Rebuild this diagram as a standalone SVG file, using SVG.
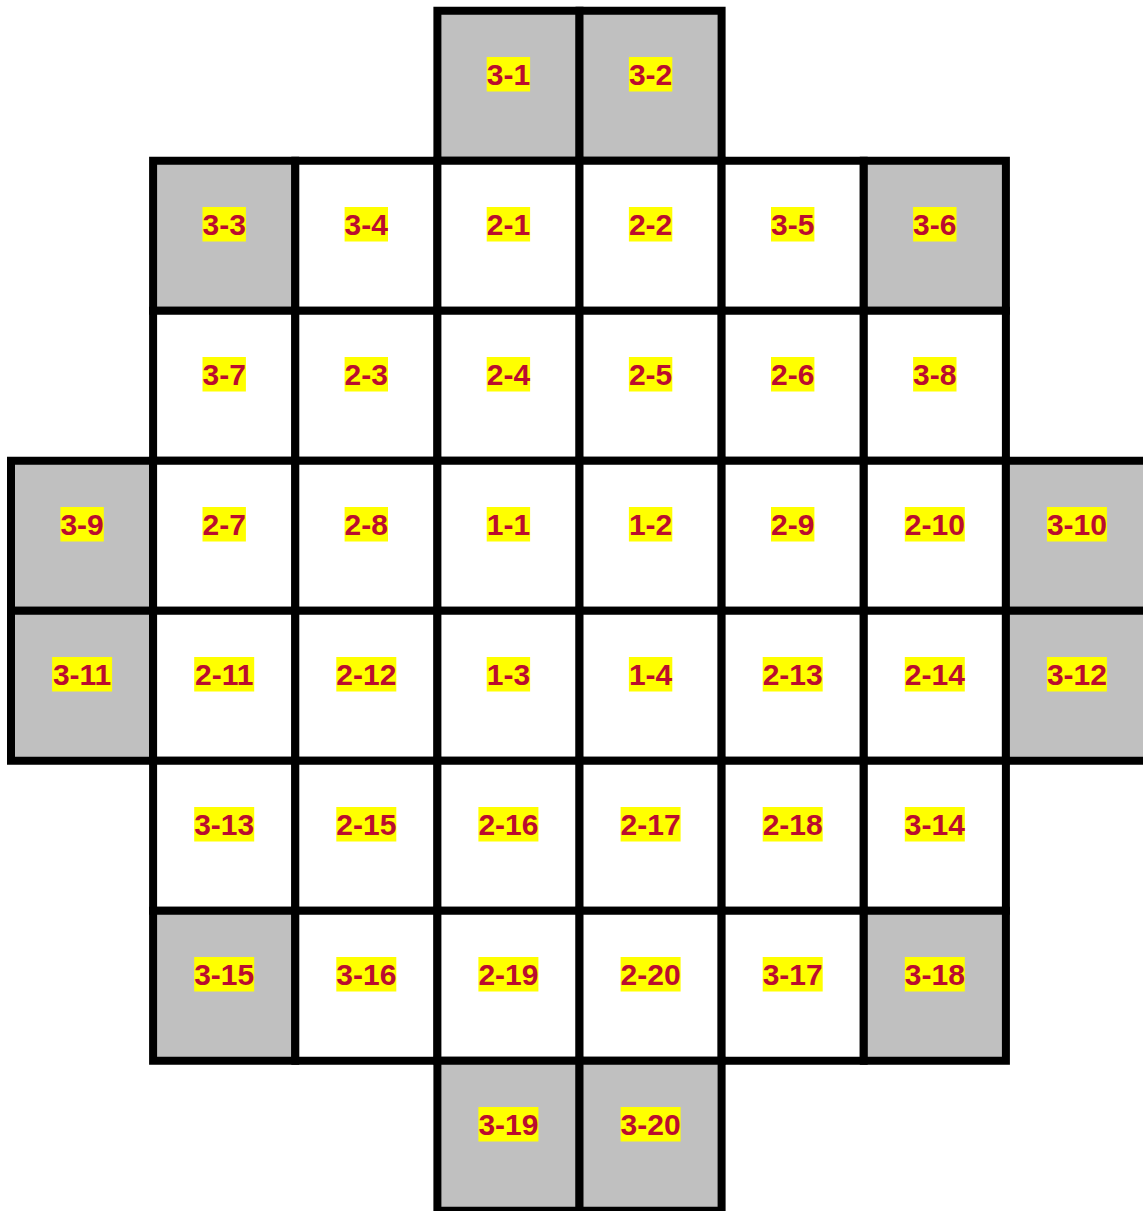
<svg xmlns="http://www.w3.org/2000/svg" width="1143" height="1211" viewBox="0 0 1143 1211">
<style>
.c{stroke:#000;stroke-width:8}
.g{fill:#C0C0C0}
.w{fill:#FFFFFF}
.hl{fill:#FFFF00}
.t{font-family:"Liberation Sans",Arial,sans-serif;font-weight:bold;font-size:30px;fill:#BA0C2F;text-anchor:middle}
</style>
<rect x="0" y="0" width="1143" height="1211" fill="#FFFFFF"/>
<g id="connectors"></g>
<!-- Row 0 -->
<g id="n3-1"><rect class="c g" x="437.4" y="10.75" width="142.1" height="150"/><rect class="hl" x="486.7" y="57" width="43.4" height="34.5"/><text class="t" x="508.4" y="84.5">3-1</text></g>
<g id="n3-2"><rect class="c g" x="579.5" y="10.75" width="142.1" height="150"/><rect class="hl" x="628.9" y="57" width="43.4" height="34.5"/><text class="t" x="650.6" y="84.5">3-2</text></g>
<!-- Row 1 -->
<g id="n3-3"><rect class="c g" x="153.1" y="160.75" width="142.1" height="150"/><rect class="hl" x="202.5" y="207" width="43.4" height="34.5"/><text class="t" x="224.2" y="234.5">3-3</text></g>
<g id="n3-4"><rect class="c w" x="295.3" y="160.75" width="142.1" height="150"/><rect class="hl" x="344.6" y="207" width="43.4" height="34.5"/><text class="t" x="366.3" y="234.5">3-4</text></g>
<g id="n2-1"><rect class="c w" x="437.4" y="160.75" width="142.1" height="150"/><rect class="hl" x="486.7" y="207" width="43.4" height="34.5"/><text class="t" x="508.4" y="234.5">2-1</text></g>
<g id="n2-2"><rect class="c w" x="579.5" y="160.75" width="142.1" height="150"/><rect class="hl" x="628.9" y="207" width="43.4" height="34.5"/><text class="t" x="650.6" y="234.5">2-2</text></g>
<g id="n3-5"><rect class="c w" x="721.6" y="160.75" width="142.1" height="150"/><rect class="hl" x="771" y="207" width="43.4" height="34.5"/><text class="t" x="792.7" y="234.5">3-5</text></g>
<g id="n3-6"><rect class="c g" x="863.8" y="160.75" width="142.1" height="150"/><rect class="hl" x="913.1" y="207" width="43.4" height="34.5"/><text class="t" x="934.8" y="234.5">3-6</text></g>
<!-- Row 2 -->
<g id="n3-7"><rect class="c w" x="153.1" y="310.75" width="142.1" height="150"/><rect class="hl" x="202.5" y="357" width="43.4" height="34.5"/><text class="t" x="224.2" y="384.5">3-7</text></g>
<g id="n2-3"><rect class="c w" x="295.3" y="310.75" width="142.1" height="150"/><rect class="hl" x="344.6" y="357" width="43.4" height="34.5"/><text class="t" x="366.3" y="384.5">2-3</text></g>
<g id="n2-4"><rect class="c w" x="437.4" y="310.75" width="142.1" height="150"/><rect class="hl" x="486.7" y="357" width="43.4" height="34.5"/><text class="t" x="508.4" y="384.5">2-4</text></g>
<g id="n2-5"><rect class="c w" x="579.5" y="310.75" width="142.1" height="150"/><rect class="hl" x="628.9" y="357" width="43.4" height="34.5"/><text class="t" x="650.6" y="384.5">2-5</text></g>
<g id="n2-6"><rect class="c w" x="721.6" y="310.75" width="142.1" height="150"/><rect class="hl" x="771" y="357" width="43.4" height="34.5"/><text class="t" x="792.7" y="384.5">2-6</text></g>
<g id="n3-8"><rect class="c w" x="863.8" y="310.75" width="142.1" height="150"/><rect class="hl" x="913.1" y="357" width="43.4" height="34.5"/><text class="t" x="934.8" y="384.5">3-8</text></g>
<!-- Row 3 -->
<g id="n3-9"><rect class="c g" x="11" y="460.75" width="142.1" height="150"/><rect class="hl" x="60.4" y="507" width="43.4" height="34.5"/><text class="t" x="82.1" y="534.5">3-9</text></g>
<g id="n2-7"><rect class="c w" x="153.1" y="460.75" width="142.1" height="150"/><rect class="hl" x="202.5" y="507" width="43.4" height="34.5"/><text class="t" x="224.2" y="534.5">2-7</text></g>
<g id="n2-8"><rect class="c w" x="295.3" y="460.75" width="142.1" height="150"/><rect class="hl" x="344.6" y="507" width="43.4" height="34.5"/><text class="t" x="366.3" y="534.5">2-8</text></g>
<g id="n1-1"><rect class="c w" x="437.4" y="460.75" width="142.1" height="150"/><rect class="hl" x="486.7" y="507" width="43.4" height="34.5"/><text class="t" x="508.4" y="534.5">1-1</text></g>
<g id="n1-2"><rect class="c w" x="579.5" y="460.75" width="142.1" height="150"/><rect class="hl" x="628.9" y="507" width="43.4" height="34.5"/><text class="t" x="650.6" y="534.5">1-2</text></g>
<g id="n2-9"><rect class="c w" x="721.6" y="460.75" width="142.1" height="150"/><rect class="hl" x="771" y="507" width="43.4" height="34.5"/><text class="t" x="792.7" y="534.5">2-9</text></g>
<g id="n2-10"><rect class="c w" x="863.8" y="460.75" width="142.1" height="150"/><rect class="hl" x="904.8" y="507" width="60" height="34.5"/><text class="t" x="934.8" y="534.5">2-10</text></g>
<g id="n3-10"><rect class="c g" x="1005.9" y="460.75" width="142.1" height="150"/><rect class="hl" x="1046.9" y="507" width="60" height="34.5"/><text class="t" x="1076.9" y="534.5">3-10</text></g>
<!-- Row 4 -->
<g id="n3-11"><rect class="c g" x="11" y="610.75" width="142.1" height="150"/><rect class="hl" x="52.1" y="657" width="60" height="34.5"/><text class="t" x="82.1" y="684.5">3-11</text></g>
<g id="n2-11"><rect class="c w" x="153.1" y="610.75" width="142.1" height="150"/><rect class="hl" x="194.2" y="657" width="60" height="34.5"/><text class="t" x="224.2" y="684.5">2-11</text></g>
<g id="n2-12"><rect class="c w" x="295.3" y="610.75" width="142.1" height="150"/><rect class="hl" x="336.3" y="657" width="60" height="34.5"/><text class="t" x="366.3" y="684.5">2-12</text></g>
<g id="n1-3"><rect class="c w" x="437.4" y="610.75" width="142.1" height="150"/><rect class="hl" x="486.7" y="657" width="43.4" height="34.5"/><text class="t" x="508.4" y="684.5">1-3</text></g>
<g id="n1-4"><rect class="c w" x="579.5" y="610.75" width="142.1" height="150"/><rect class="hl" x="628.9" y="657" width="43.4" height="34.5"/><text class="t" x="650.6" y="684.5">1-4</text></g>
<g id="n2-13"><rect class="c w" x="721.6" y="610.75" width="142.1" height="150"/><rect class="hl" x="762.7" y="657" width="60" height="34.5"/><text class="t" x="792.7" y="684.5">2-13</text></g>
<g id="n2-14"><rect class="c w" x="863.8" y="610.75" width="142.1" height="150"/><rect class="hl" x="904.8" y="657" width="60" height="34.5"/><text class="t" x="934.8" y="684.5">2-14</text></g>
<g id="n3-12"><rect class="c g" x="1005.9" y="610.75" width="142.1" height="150"/><rect class="hl" x="1046.9" y="657" width="60" height="34.5"/><text class="t" x="1076.9" y="684.5">3-12</text></g>
<!-- Row 5 -->
<g id="n3-13"><rect class="c w" x="153.1" y="760.75" width="142.1" height="150"/><rect class="hl" x="194.2" y="807" width="60" height="34.5"/><text class="t" x="224.2" y="834.5">3-13</text></g>
<g id="n2-15"><rect class="c w" x="295.3" y="760.75" width="142.1" height="150"/><rect class="hl" x="336.3" y="807" width="60" height="34.5"/><text class="t" x="366.3" y="834.5">2-15</text></g>
<g id="n2-16"><rect class="c w" x="437.4" y="760.75" width="142.1" height="150"/><rect class="hl" x="478.4" y="807" width="60" height="34.5"/><text class="t" x="508.4" y="834.5">2-16</text></g>
<g id="n2-17"><rect class="c w" x="579.5" y="760.75" width="142.1" height="150"/><rect class="hl" x="620.6" y="807" width="60" height="34.5"/><text class="t" x="650.6" y="834.5">2-17</text></g>
<g id="n2-18"><rect class="c w" x="721.6" y="760.75" width="142.1" height="150"/><rect class="hl" x="762.7" y="807" width="60" height="34.5"/><text class="t" x="792.7" y="834.5">2-18</text></g>
<g id="n3-14"><rect class="c w" x="863.8" y="760.75" width="142.1" height="150"/><rect class="hl" x="904.8" y="807" width="60" height="34.5"/><text class="t" x="934.8" y="834.5">3-14</text></g>
<!-- Row 6 -->
<g id="n3-15"><rect class="c g" x="153.1" y="910.75" width="142.1" height="150"/><rect class="hl" x="194.2" y="957" width="60" height="34.5"/><text class="t" x="224.2" y="984.5">3-15</text></g>
<g id="n3-16"><rect class="c w" x="295.3" y="910.75" width="142.1" height="150"/><rect class="hl" x="336.3" y="957" width="60" height="34.5"/><text class="t" x="366.3" y="984.5">3-16</text></g>
<g id="n2-19"><rect class="c w" x="437.4" y="910.75" width="142.1" height="150"/><rect class="hl" x="478.4" y="957" width="60" height="34.5"/><text class="t" x="508.4" y="984.5">2-19</text></g>
<g id="n2-20"><rect class="c w" x="579.5" y="910.75" width="142.1" height="150"/><rect class="hl" x="620.6" y="957" width="60" height="34.5"/><text class="t" x="650.6" y="984.5">2-20</text></g>
<g id="n3-17"><rect class="c w" x="721.6" y="910.75" width="142.1" height="150"/><rect class="hl" x="762.7" y="957" width="60" height="34.5"/><text class="t" x="792.7" y="984.5">3-17</text></g>
<g id="n3-18"><rect class="c g" x="863.8" y="910.75" width="142.1" height="150"/><rect class="hl" x="904.8" y="957" width="60" height="34.5"/><text class="t" x="934.8" y="984.5">3-18</text></g>
<!-- Row 7 -->
<g id="n3-19"><rect class="c g" x="437.4" y="1060.75" width="142.1" height="150"/><rect class="hl" x="478.4" y="1107" width="60" height="34.5"/><text class="t" x="508.4" y="1134.5">3-19</text></g>
<g id="n3-20"><rect class="c g" x="579.5" y="1060.75" width="142.1" height="150"/><rect class="hl" x="620.6" y="1107" width="60" height="34.5"/><text class="t" x="650.6" y="1134.5">3-20</text></g>
</svg>
